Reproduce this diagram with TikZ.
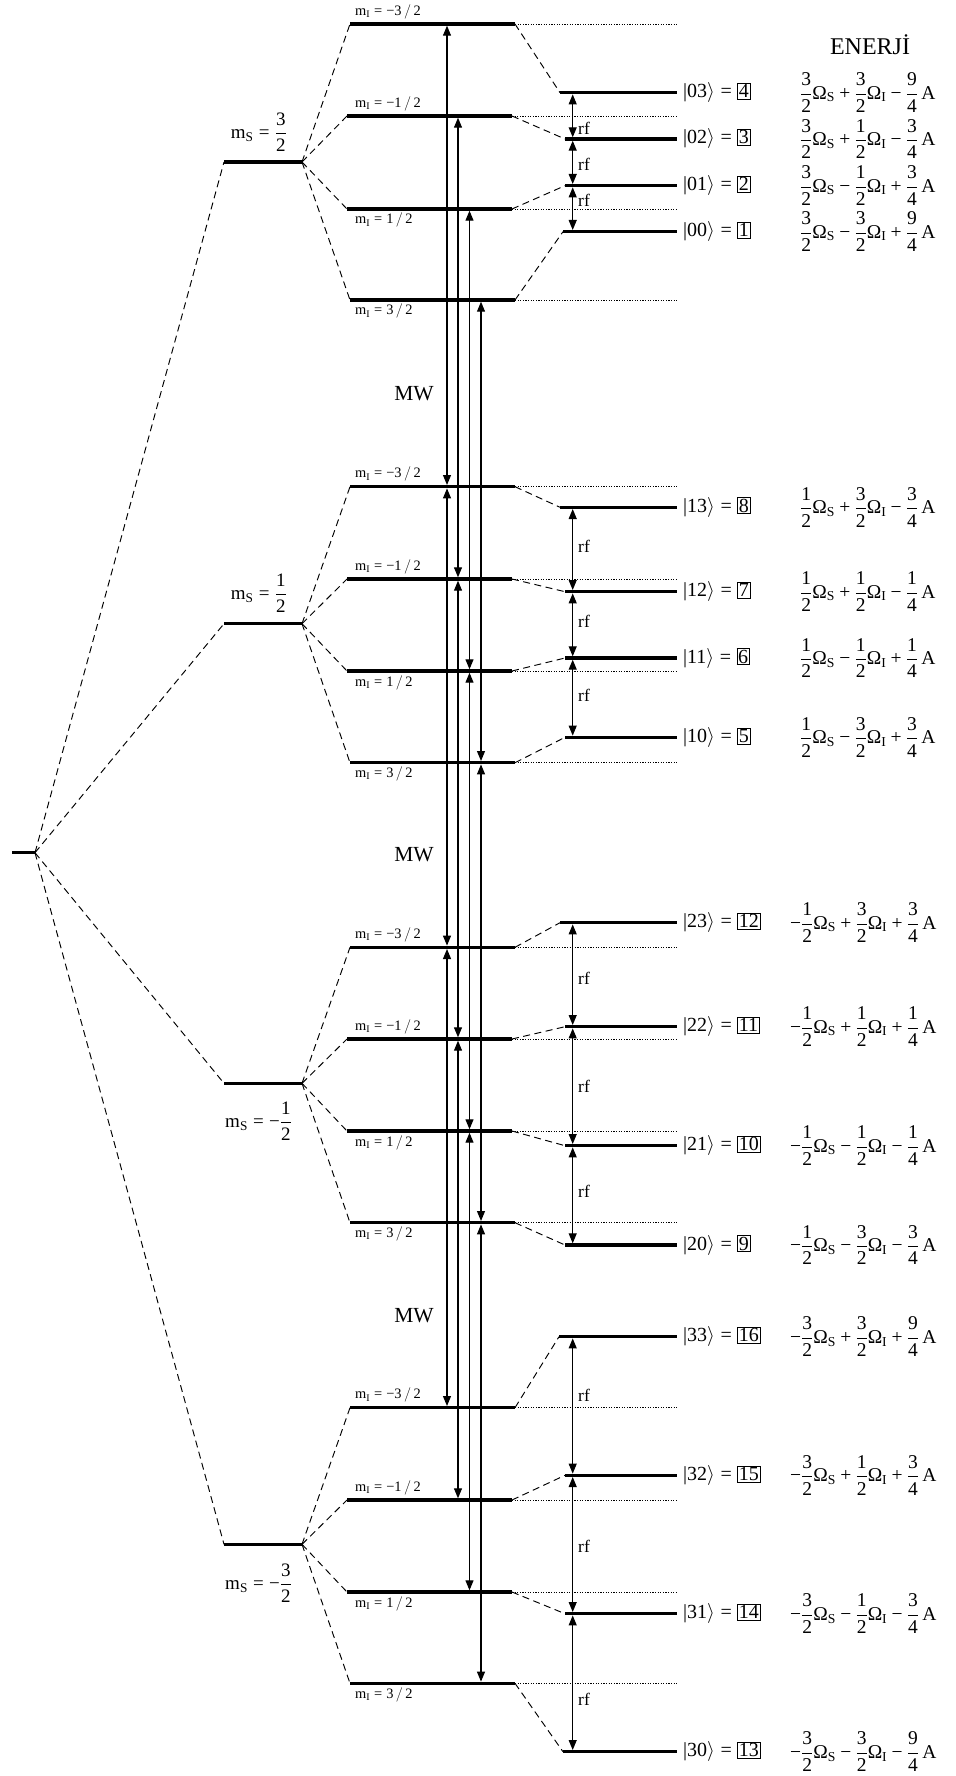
\RequirePackage{fix-cm}
\documentclass[tikz,border=0pt]{standalone}
\usepackage{amsmath}
\usepackage{fontspec}
\setmainfont{Liberation Serif}
\usetikzlibrary{arrows.meta,calc}

\newcommand\fr[2]{{\displaystyle\frac{\text{#1}}{\text{#2}}}}
\newcommand\OS{\text{Ω}_{\text{S}}}
\newcommand\OI{\text{Ω}_{\text{I}}}
\newcommand\pl{\mathbin{\text{+}}}
\newcommand\mn{\mathbin{\text{−}}}
\newcommand\negs{\text{−}}
\newcommand\eqs{\mathrel{\text{=}}}
\newcommand\myket[2]{$\text{|}\text{#1}\rangle\eqs\fbox{#2}$}
\setlength\fboxsep{1pt}
\setlength\fboxrule{0.6pt}

\tikzset{
  lvl/.style={line width=3.3pt},
  conn/.style={line width=0.95pt, dash pattern=on 7pt off 4.5pt},
  guide/.style={line width=0.8pt, dash pattern=on 1.2pt off 1.4pt},
  trans/.style={line width=1.1pt, {Triangle[length=10pt,width=8pt]}-{Triangle[length=10pt,width=8pt]}, shorten <=1.7pt, shorten >=1.7pt},
  milab/.style={inner sep=0pt, font=\fontsize{14.4}{16}\selectfont},
  mslab/.style={inner sep=0pt, font=\fontsize{19}{22}\selectfont},
  ketlab/.style={inner sep=0pt, anchor=west, font=\fontsize{20}{23}\selectfont},
  enlab/.style={inner sep=0pt, anchor=west, font=\fontsize{19.5}{22}\selectfont},
  rflab/.style={inner sep=0pt, anchor=west, font=\fontsize{17.5}{20}\selectfont},
  mwlab/.style={inner sep=0pt, font=\fontsize{21.5}{24}\selectfont},
  ttl/.style={inner sep=0pt, font=\fontsize{24}{27}\selectfont}
}

\begin{document}
\begin{tikzpicture}[x=1pt,y=-1pt]
\useasboundingbox (0,0) rectangle (955,1776);

% transition columns
\coordinate (W0) at (447,0);
\coordinate (W1) at (458,0);
\coordinate (W2) at (469.5,0);
\coordinate (W3) at (481,0);
\coordinate (F) at (572.7,0);

% ground level
\coordinate (GL) at (12,852.7);
\coordinate (GR) at (35,852.7);
\draw[lvl] (GL) -- (GR);

% m_S levels
\foreach \g/\y in {0/162,1/623.7,2/1083.3,3/1544.3}{
  \coordinate (S\g L) at (224,\y);
  \coordinate (S\g R) at (302,\y);
  \draw[lvl] (S\g L) -- (S\g R);
  \draw[conn] (GR) -- (S\g L);
}

% m_I levels
\foreach \g/\k/\y/\xl/\xr in {
  0/0/24/350/515, 0/1/116/347/512, 0/2/209/347/512, 0/3/300/350/515,
  1/0/486.7/350/515, 1/1/579/347/512, 1/2/671/347/512, 1/3/762.7/350/515,
  2/0/947.3/350/515, 2/1/1039/347/512, 2/2/1131/347/512, 2/3/1222.7/350/515,
  3/0/1407.7/350/515, 3/1/1500/347/512, 3/2/1592/347/512, 3/3/1683.3/350/515}{
  \coordinate (M\g\k L) at (\xl,\y);
  \coordinate (M\g\k R) at (\xr,\y);
  \draw[lvl] (M\g\k L) -- (M\g\k R);
}

% final (right) levels
\foreach \g/\k/\y/\xl in {
  0/0/92.7/560, 0/1/139/565, 0/2/185.7/565, 0/3/231.7/563,
  1/0/507.3/560, 1/1/591.7/565, 1/2/658/565, 1/3/737.3/565,
  2/0/922.7/560, 2/1/1026.7/565, 2/2/1145.7/565, 2/3/1245/565,
  3/0/1336.7/559, 3/1/1475.3/565, 3/2/1613.7/565, 3/3/1751.7/563}{
  \coordinate (R\g\k L) at (\xl,\y);
  \coordinate (R\g\k R) at (677,\y);
  \draw[lvl] (R\g\k L) -- (R\g\k R);
}

% connectors
\foreach \g in {0,...,3}{
  \foreach \k in {0,...,3}{
    \draw[conn] (S\g R) -- (M\g\k L);
    \draw[conn] (M\g\k R) -- (R\g\k L);
    \draw[guide] (M\g\k R) -- (M\g\k R -| R\g\k R);
  }
}

% MW transitions
\foreach \k in {0,...,3}{
  \foreach \g/\h in {0/1,1/2,2/3}{
    \draw[trans] (W\k |- M\g\k L) -- (W\k |- M\h\k L);
  }
}

% rf transitions
\foreach \g in {0,...,3}{
  \foreach \k/\h in {0/1,1/2,2/3}{
    \draw[trans] (F |- R\g\k L) -- (F |- R\g\h L);
  }
}

% rf labels
\foreach \g/\k/\y in {0/0/128,0/1/164,0/2/200,
  1/0/546.7,1/1/621.7,1/2/695,
  2/0/978.3,2/1/1086.7,2/2/1191,
  3/0/1395,3/1/1546.7,3/2/1699}{
  \node[rflab] (rf\g\k) at (578,\y) {rf};
}

% MW labels
\node[mwlab] (mw0) at (414,394) {MW};
\node[mwlab] (mw1) at (414,855) {MW};
\node[mwlab] (mw2) at (414,1316) {MW};

% m_S labels
\node[mslab, anchor=east] (ms0) at (287,132) {$\text{m}_{\text{S}}\eqs\fr32$};
\node[mslab, anchor=east] (ms1) at (287,593) {$\text{m}_{\text{S}}\eqs\fr12$};
\node[mslab, anchor=east] (ms2) at (292,1121) {$\text{m}_{\text{S}}\eqs\negs\fr12$};
\node[mslab, anchor=east] (ms3) at (292,1583) {$\text{m}_{\text{S}}\eqs\negs\fr32$};

% m_I labels
\foreach \g in {0,...,3}{
  \node[milab, anchor=south west] (mi\g0) at ($(M\g0L)+(5,-5)$) {$\text{m}_{\text{I}}\eqs\text{−3}\,/\,\text{2}$};
  \node[milab, anchor=south west] (mi\g1) at ($(M\g1L)+(8,-5)$) {$\text{m}_{\text{I}}\eqs\text{−1}\,/\,\text{2}$};
  \node[milab, anchor=north west] (mi\g2) at ($(M\g2L)+(8,4)$) {$\text{m}_{\text{I}}\eqs\text{1}\,/\,\text{2}$};
  \node[milab, anchor=north west] (mi\g3) at ($(M\g3L)+(5,4)$) {$\text{m}_{\text{I}}\eqs\text{3}\,/\,\text{2}$};
}

% title
\node[ttl] (title) at (870,45) {ENERJİ};

% kets
\foreach \g in {0,...,3}{
  \foreach \k in {0,...,3}{
    \pgfmathtruncatemacro\m{3-\k}
    \pgfmathtruncatemacro\n{4*\g+4-\k}
    \node[ketlab] (ket\g\k) at ($(R\g\k R)+(6,0)$) {\myket{\g\m}{\n}};
  }
}

% energies
\node[enlab] (E00) at ($(R00R)+(123,0)$) {$\fr32\OS\pl\fr32\OI\mn\fr94\,\text{A}$};
\node[enlab] (E01) at ($(R01R)+(123,0)$) {$\fr32\OS\pl\fr12\OI\mn\fr34\,\text{A}$};
\node[enlab] (E02) at ($(R02R)+(123,0)$) {$\fr32\OS\mn\fr12\OI\pl\fr34\,\text{A}$};
\node[enlab] (E03) at ($(R03R)+(123,0)$) {$\fr32\OS\mn\fr32\OI\pl\fr94\,\text{A}$};
\node[enlab] (E10) at ($(R10R)+(123,0)$) {$\fr12\OS\pl\fr32\OI\mn\fr34\,\text{A}$};
\node[enlab] (E11) at ($(R11R)+(123,0)$) {$\fr12\OS\pl\fr12\OI\mn\fr14\,\text{A}$};
\node[enlab] (E12) at ($(R12R)+(123,0)$) {$\fr12\OS\mn\fr12\OI\pl\fr14\,\text{A}$};
\node[enlab] (E13) at ($(R13R)+(123,0)$) {$\fr12\OS\mn\fr32\OI\pl\fr34\,\text{A}$};
\node[enlab] (E20) at ($(R20R)+(113,0)$) {$\negs\fr12\OS\pl\fr32\OI\pl\fr34\,\text{A}$};
\node[enlab] (E21) at ($(R21R)+(113,0)$) {$\negs\fr12\OS\pl\fr12\OI\pl\fr14\,\text{A}$};
\node[enlab] (E22) at ($(R22R)+(113,0)$) {$\negs\fr12\OS\mn\fr12\OI\mn\fr14\,\text{A}$};
\node[enlab] (E23) at ($(R23R)+(113,0)$) {$\negs\fr12\OS\mn\fr32\OI\mn\fr34\,\text{A}$};
\node[enlab] (E30) at ($(R30R)+(113,0)$) {$\negs\fr32\OS\pl\fr32\OI\pl\fr94\,\text{A}$};
\node[enlab] (E31) at ($(R31R)+(113,0)$) {$\negs\fr32\OS\pl\fr12\OI\pl\fr34\,\text{A}$};
\node[enlab] (E32) at ($(R32R)+(113,0)$) {$\negs\fr32\OS\mn\fr12\OI\mn\fr34\,\text{A}$};
\node[enlab] (E33) at ($(R33R)+(113,0)$) {$\negs\fr32\OS\mn\fr32\OI\mn\fr94\,\text{A}$};

\end{tikzpicture}
\end{document}
